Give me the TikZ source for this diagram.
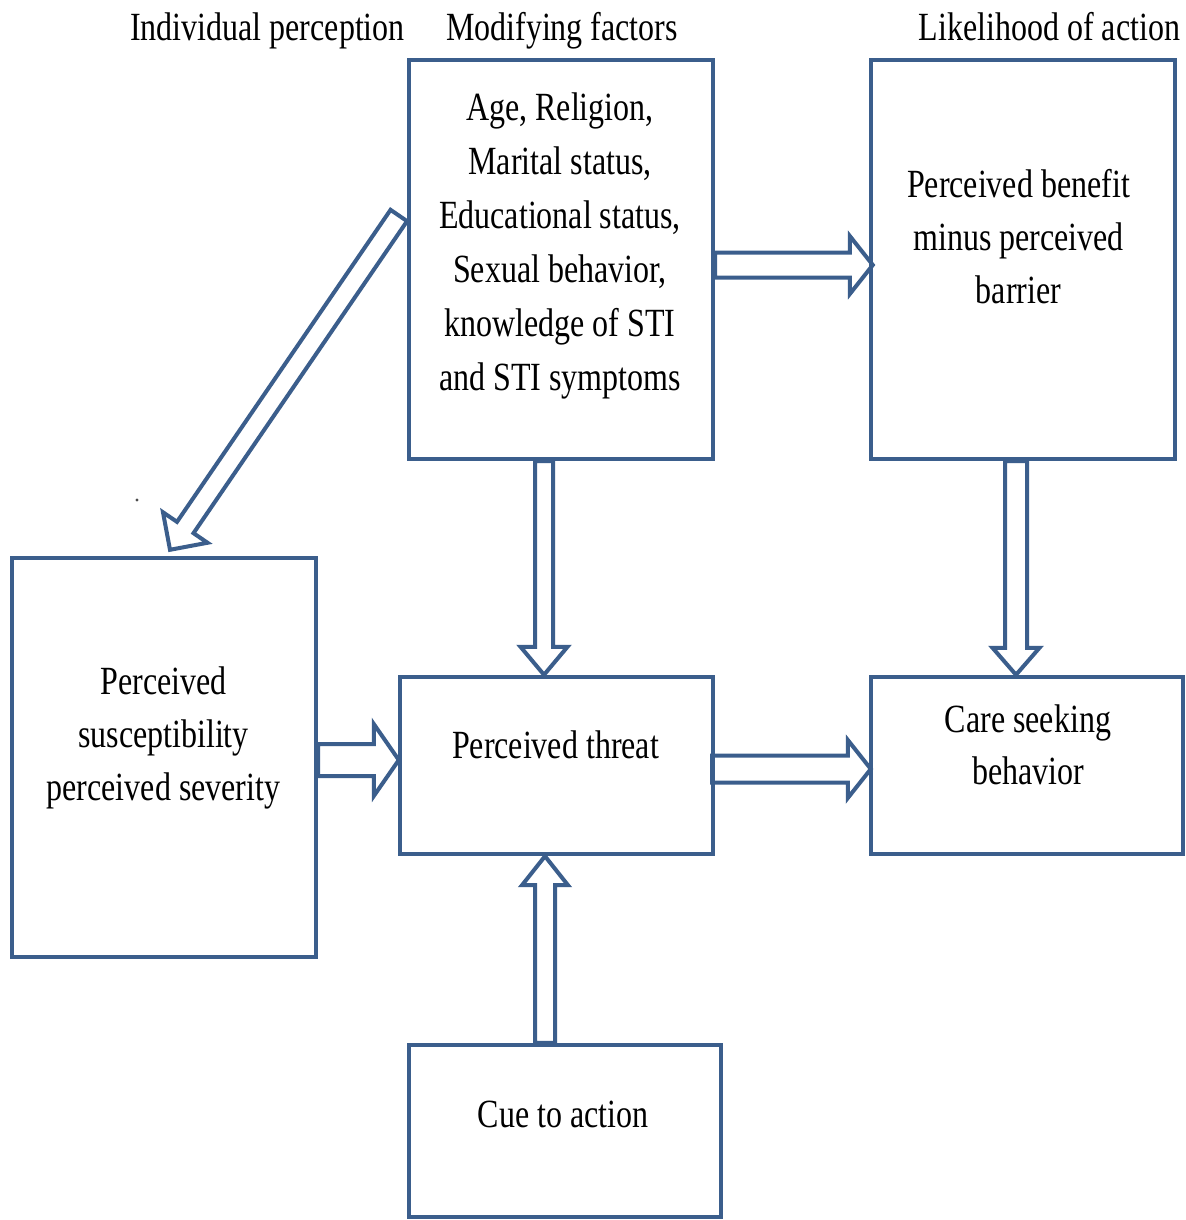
\documentclass[tikz,border=0pt]{standalone}
\usepackage{fontspec}
\setmainfont{Liberation Serif}[FakeStretch=0.8]
\usetikzlibrary{calc}
\definecolor{boxblue}{RGB}{59,94,140}
\tikzset{
  box/.style={draw=boxblue, line width=2.2pt, inner sep=0pt},
  arr/.style={draw=boxblue, line width=2pt, line join=miter},
  txt/.style={font=\fontsize{20pt}{27pt}\selectfont, align=center, inner sep=0pt, anchor=north, text=black},
}
% #1 tail coordinate, #2 tip coordinate, #3 shaft half width, #4 head half width, #5 head length
\newcommand{\blockarrow}[5]{%
  \draw[arr] let \p1=(#1), \p2=(#2),
    \n1={veclen(\x2-\x1,\y2-\y1)}, \n2={atan2(\y2-\y1,\x2-\x1)} in
    [shift={(\p1)}, rotate=\n2]
    (0pt,#3) -- (\n1-#5,#3) -- (\n1-#5,#4) -- (\n1,0pt) -- (\n1-#5,-#4) -- (\n1-#5,-#3) -- (0pt,-#3) -- cycle;}
\begin{document}
\begin{tikzpicture}[x=0.5pt,y=-0.5pt]
\fill[white] (0,0) rectangle (1186,1220);
\useasboundingbox (0,0) rectangle (1186,1220);

% boxes
\node[box, minimum width=152pt, minimum height=199.5pt] (M) at (561,259.5) {};
\node[box, minimum width=152pt, minimum height=199.5pt] (L) at (1023,259.5) {};
\node[box, minimum width=152pt, minimum height=199.5pt] (S) at (164,757.5) {};
\node[box, minimum width=156.5pt, minimum height=88.5pt] (T) at (556.5,765.5) {};
\node[box, minimum width=156pt, minimum height=88.5pt] (C) at (1027,765.5) {};
\node[box, minimum width=156pt, minimum height=86pt] (Q) at (565,1131) {};

% headers
\node[txt] (h1) at (267.5,2.2) {\strut Individual perception};
\node[txt] (h2) at (562,2.2) {\strut Modifying factors};
\node[txt] (h3) at (1049.5,2.2) {\strut Likelihood of action};

% box texts
\node[txt] (tM) at (560,82.2) {\strut Age, Religion,\\ Marital status,\\ Educational status,\\ Sexual behavior,\\ knowledge of STI\\ and STI symptoms};
\node[txt, font=\fontsize{20pt}{26.5pt}\selectfont] (tL) at (1018.5,160.2) {\strut Perceived benefit\\ minus perceived\\ barrier};
\node[txt, font=\fontsize{20pt}{26.5pt}\selectfont] (tS) at (163.5,657.2) {\strut Perceived\\ susceptibility\\ perceived severity};
\node[txt] (tT) at (555.5,720.2) {\strut Perceived threat};
\node[txt, font=\fontsize{20pt}{26pt}\selectfont] (tC) at (1028,695.2) {\strut Care seeking\\ behavior};
\node[txt] (tQ) at (563,1089.2) {\strut Cue to action};

\fill[black!70] (137,500) circle (0.8pt);

% arrow end points
\coordinate (a1s) at ($(M.east)+(0,5.5)$);
\coordinate (a1e) at ($(L.west)+(4,5.5)$);
\coordinate (a2s) at ($(M.west)+(-8,-44)$);
\coordinate (a2e) at ($(S.north)+(6,-6)$);
\coordinate (a3s) at ($(M.south)+(-17,0)$);
\coordinate (a3e) at ($(T.north)+(-12.5,0)$);
\coordinate (a4s) at ($(L.south)+(-7,0)$);
\coordinate (a4e) at ($(C.north)+(-11,0)$);
\coordinate (a5s) at ($(S.east)+(0,2.5)$);
\coordinate (a5e) at ($(T.west)+(1,-5.5)$);
\coordinate (a6s) at ($(T.east)+(-3,3.5)$);
\coordinate (a6e) at ($(C.west)+(2,3.5)$);
\coordinate (a7s) at ($(Q.north)+(-20,0)$);
\coordinate (a7e) at ($(T.south)+(-11.5,0)$);

\blockarrow{a1s}{a1e}{6.25pt}{14.5pt}{11.5pt}
\blockarrow{a2s}{a2e}{5pt}{13.5pt}{13.5pt}
\blockarrow{a3s}{a3e}{4.5pt}{11.75pt}{14pt}
\blockarrow{a4s}{a4e}{5.5pt}{11.75pt}{13.5pt}
\blockarrow{a5s}{a5e}{8pt}{18pt}{12.5pt}
\blockarrow{a6s}{a6e}{6.75pt}{14.5pt}{11.5pt}
\blockarrow{a7s}{a7e}{5pt}{11.5pt}{14.5pt}
\end{tikzpicture}
\end{document}
